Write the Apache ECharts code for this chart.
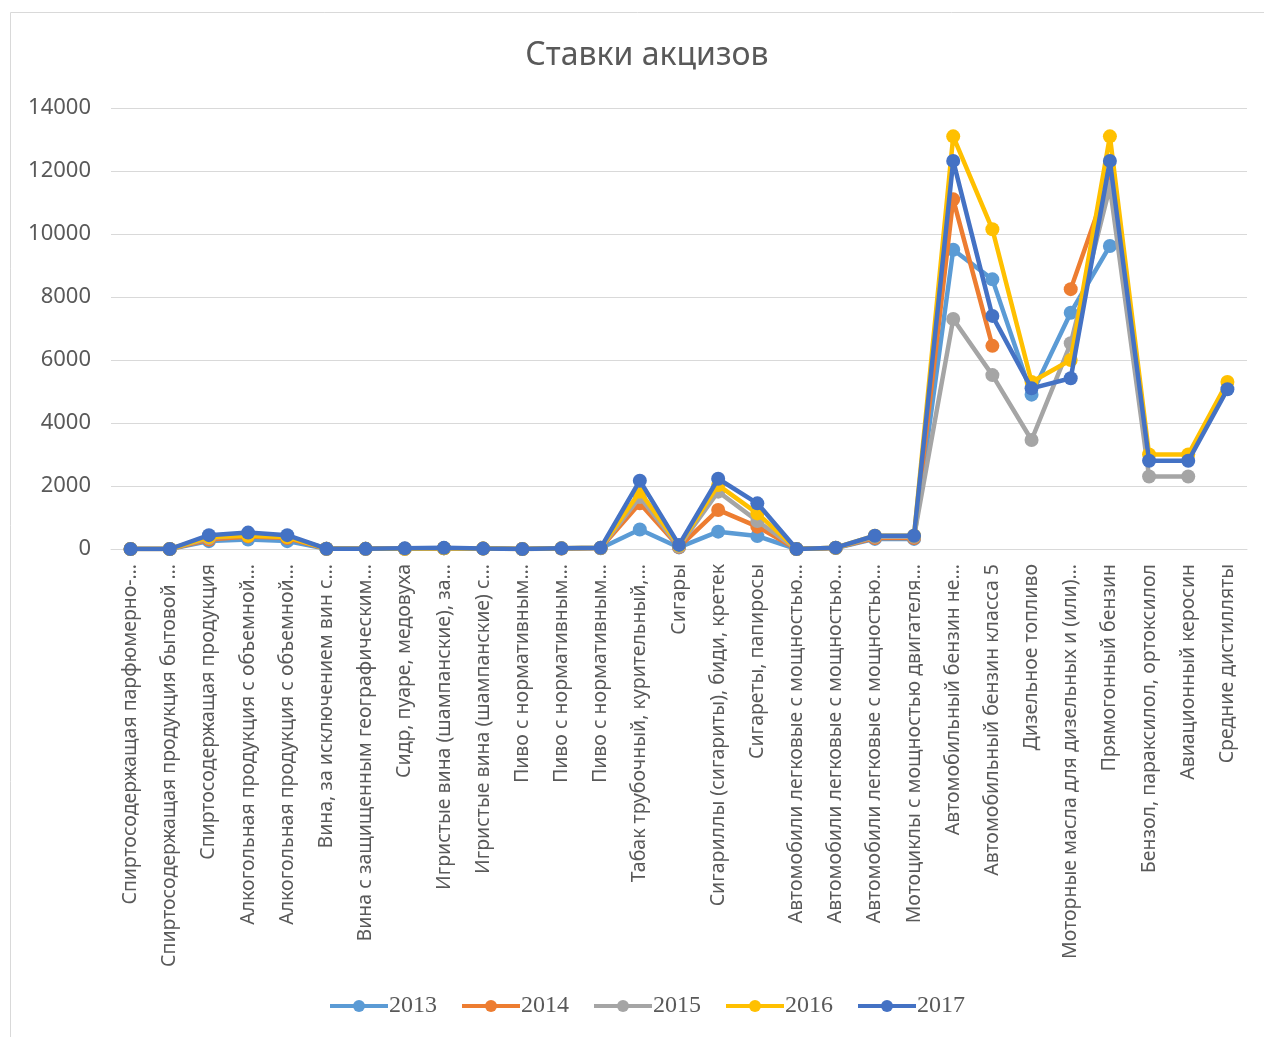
<!DOCTYPE html>
<html>
<head>
<meta charset="utf-8">
<script src="https://cdn.jsdelivr.net/npm/echarts@6/dist/echarts.min.js"></script>
<style>
  html, body { margin: 0; padding: 0; background: #fff; }
  #chart { width: 1264px; height: 1037px; }
</style>
</head>
<body>
<div id="chart"></div>
<script>
// Excise rates by product group, 2013–2017
const categories = [
  'Спиртосодержащая парфюмерно-…',
  'Спиртосодержащая продукция бытовой …',
  'Спиртосодержащая продукция',
  'Алкогольная продукция с объемной…',
  'Алкогольная продукция с объемной…',
  'Вина, за исключением вин с…',
  'Вина с защищенным географическим…',
  'Сидр, пуаре, медовуха',
  'Игристые вина (шампанские), за…',
  'Игристые вина (шампанские) с…',
  'Пиво с нормативным…',
  'Пиво с нормативным…',
  'Пиво с нормативным…',
  'Табак трубочный, курительный,…',
  'Сигары',
  'Сигариллы (сигариты), биди, кретек',
  'Сигареты, папиросы',
  'Автомобили легковые с мощностью…',
  'Автомобили легковые с мощностью…',
  'Автомобили легковые с мощностью…',
  'Мотоциклы с мощностью двигателя…',
  'Автомобильный бензин не…',
  'Автомобильный бензин класса 5',
  'Дизельное топливо',
  'Моторные масла для дизельных и (или)…',
  'Прямогонный бензин',
  'Бензол, параксилол, ортоксилол',
  'Авиационный керосин',
  'Средние дистилляты'
];

const years = ['2013', '2014', '2015', '2016', '2017'];

const rates2013 = [0, 0, 250, 300, 250, 7, 5, 9, 25, 13, 0, 15, 26, 620, 50, 550, 410, 0, 30, 320, 320,
  9500, 8560, 4900, 7500, 9620, null, null, null];
const rates2014 = [0, 0, 300, 400, 350, 8, 5, 10, 26, 13, 0, 18, 31, 1450, 60, 1240, 710, 0, 35, 350, 350,
  11100, 6450, null, 8250, 11800, null, null, null];
const rates2015 = [0, 0, 350, 450, 400, 9, 5, 9, 26, 13, 0, 20, 37, 1650, 80, 1820, 890, 0, 40, 390, 390,
  7300, 5520, 3460, 6530, 11500, 2300, 2300, null];
const rates2016 = [0, 0, 380, 420, 380, 9, 5, 9, 26, 13, 0, 20, 37, 1820, 110, 2030, 1130, 0, 40, 420, 420,
  13100, 10150, 5300, 6000, 13100, 3000, 3000, 5300];
const rates2017 = [0, 0, 440, 520, 440, 9, 5, 21, 36, 13, 0, 21, 39, 2170, 130, 2230, 1450, 0, 43, 420, 420,
  12320, 7400, 5100, 5420, 12320, 2800, 2800, 5070];

const seriesValues = [rates2013, rates2014, rates2015, rates2016, rates2017];
const colors = ['#5B9BD5', '#ED7D31', '#A5A5A5', '#FFC000', '#4472C4'];

const chart = echarts.init(document.getElementById('chart'));

chart.setOption({
  animation: false,
  color: colors,
  title: {
    text: 'Ставки акцизов',
    left: 642,
    textAlign: 'center',
    top: 35,
    textStyle: { fontFamily: 'Noto Sans', fontSize: 32, fontWeight: 'normal', color: '#595959' }
  },
  graphic: [{
    type: 'rect',
    shape: { x: 10.5, y: 12.5, width: 1300, height: 1100 },
    style: { fill: 'none', stroke: '#d9d9d9', lineWidth: 1 },
    silent: true
  }],
  legend: {
    bottom: 14,
    left: 323,
    itemWidth: 58,
    itemHeight: 15,
    itemGap: 23,
    lineStyle: { width: 4 },
    textStyle: { fontFamily: 'Liberation Serif', fontSize: 24, color: '#595959', padding: [0, 0, 0, -4] },
    data: years
  },
  grid: { left: 111, right: 17, top: 108, bottom: 488, containLabel: false },
  xAxis: {
    type: 'category',
    data: categories,
    boundaryGap: true,
    axisLine: { lineStyle: { color: '#d9d9d9', width: 1 } },
    axisTick: { show: false },
    axisLabel: {
      interval: 0,
      rotate: 90,
      margin: 15,
      fontFamily: 'Noto Sans',
      fontSize: 19.5,
      color: '#595959'
    }
  },
  yAxis: {
    type: 'value',
    min: 0,
    max: 14000,
    interval: 2000,
    axisLine: { show: false },
    axisTick: { show: false },
    splitLine: { lineStyle: { color: '#d9d9d9', width: 1 } },
    axisLabel: {
      fontFamily: 'Noto Sans', fontSize: 22, color: '#595959', margin: 20,
      formatter: (v) => String(v)
    }
  },
  series: years.map((y, i) => ({
    name: y,
    type: 'line',
    data: seriesValues[i],
    connectNulls: false,
    symbol: 'circle',
    symbolSize: 14,
    lineStyle: { width: 4.5, color: colors[i] },
    itemStyle: { color: colors[i] },
    z: 2 + i
  }))
});
</script>
</body>
</html>
